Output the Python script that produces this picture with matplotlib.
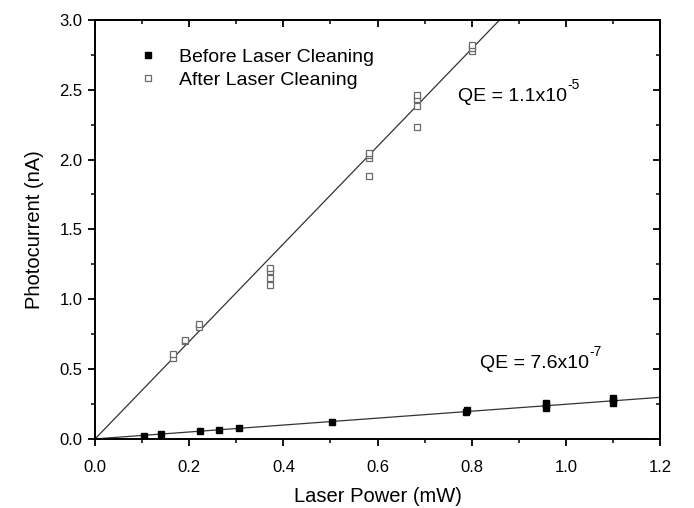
import matplotlib
matplotlib.use("Agg")
import matplotlib.pyplot as plt
import numpy as np
from matplotlib.ticker import MultipleLocator, FormatStrFormatter

plt.rcParams['font.family'] = ['Liberation Sans', 'DejaVu Sans']

# Data
before_x = [0.104, 0.14, 0.223, 0.263, 0.305, 0.503, 0.787, 0.79,
            0.957, 0.957, 0.957, 1.10, 1.10, 1.10]
before_y = [0.02, 0.035, 0.057, 0.065, 0.08, 0.12, 0.195, 0.205,
            0.22, 0.24, 0.255, 0.26, 0.28, 0.29]

after_x = [0.165, 0.165, 0.19, 0.19, 0.22, 0.22,
           0.372, 0.372, 0.372, 0.372,
           0.582, 0.582, 0.582, 0.582,
           0.683, 0.683, 0.683, 0.683,
           0.80, 0.80, 0.80]
after_y = [0.58, 0.61, 0.70, 0.71, 0.80, 0.82,
           1.10, 1.15, 1.20, 1.22,
           1.88, 2.01, 2.03, 2.05,
           2.23, 2.38, 2.43, 2.46,
           2.78, 2.80, 2.82]

# fitted line slopes (nA per mW)
slope_after = 3.49
slope_before = 0.248

qe_labels = ['QE = 1.1x10', 'QE = 7.6x10']
qe_exps = ['-5', '-7']

fig = plt.figure(figsize=(6.94, 5.08), dpi=100)
ax = fig.add_axes([0.137, 0.136, 0.814, 0.825])

xl = np.array([0.0, 1.2])
ax.plot(xl, slope_after * xl, color='#333333', lw=0.9, zorder=1)
ax.plot(xl, slope_before * xl, color='#333333', lw=0.9, zorder=1)

ax.plot(before_x, before_y, 's', color='black', ms=5, zorder=3,
        label='Before Laser Cleaning', linestyle='none')
ax.plot(after_x, after_y, 's', mfc='white', mec='#6a6a6a', mew=0.9, ms=5,
        zorder=2, label='After Laser Cleaning', linestyle='none')

ax.set_xlim(0, 1.2)
ax.set_ylim(0, 3.0)
ax.xaxis.set_major_locator(MultipleLocator(0.2))
ax.xaxis.set_minor_locator(MultipleLocator(0.1))
ax.yaxis.set_major_locator(MultipleLocator(0.5))
ax.yaxis.set_minor_locator(MultipleLocator(0.25))
ax.xaxis.set_major_formatter(FormatStrFormatter('%.1f'))
ax.yaxis.set_major_formatter(FormatStrFormatter('%.1f'))

ax.tick_params(which='major', direction='out', length=5, width=1.3,
               labelsize=12)
ax.tick_params(axis='x', which='major', pad=10)
ax.tick_params(axis='y', which='major', pad=4)
ax.tick_params(which='minor', direction='out', length=3, width=1.1)
for s in ax.spines.values():
    s.set_linewidth(1.4)

# mirrored inward ticks on top and right
sx = ax.secondary_xaxis('top')
sx.xaxis.set_major_locator(MultipleLocator(0.2))
sx.xaxis.set_minor_locator(MultipleLocator(0.1))
sx.tick_params(which='major', direction='in', length=5, width=1.3, labeltop=False)
sx.tick_params(which='minor', direction='in', length=3, width=1.1)
sy = ax.secondary_yaxis('right')
sy.yaxis.set_major_locator(MultipleLocator(0.5))
sy.yaxis.set_minor_locator(MultipleLocator(0.25))
sy.tick_params(which='major', direction='in', length=5, width=1.3, labelright=False)
sy.tick_params(which='minor', direction='in', length=3, width=1.1)
for s in list(sx.spines.values()) + list(sy.spines.values()):
    s.set_linewidth(1.4)

ax.set_xlabel('Laser Power (mW)', fontsize=14.5, labelpad=9)
ax.set_ylabel('Photocurrent (nA)', fontsize=14.5, labelpad=11)

ax.legend(loc='upper left', bbox_to_anchor=(0.062, 0.95), frameon=False,
          fontsize=14, handlelength=1.0, handletextpad=1.1, labelspacing=0.25,
          borderaxespad=0)

for (tx, ty), lab, ex in zip([(0.642, 0.818), (0.681, 0.18)], qe_labels, qe_exps):
    t = ax.text(tx, ty, lab, transform=ax.transAxes, fontsize=14,
                va='center', ha='left')
    ax.annotate(ex, xy=(1.0, 0.75), xycoords=t, fontsize=10,
                va='bottom', ha='left', xytext=(0.5, 0), textcoords='offset points')

fig.savefig('out.png', dpi=100)
